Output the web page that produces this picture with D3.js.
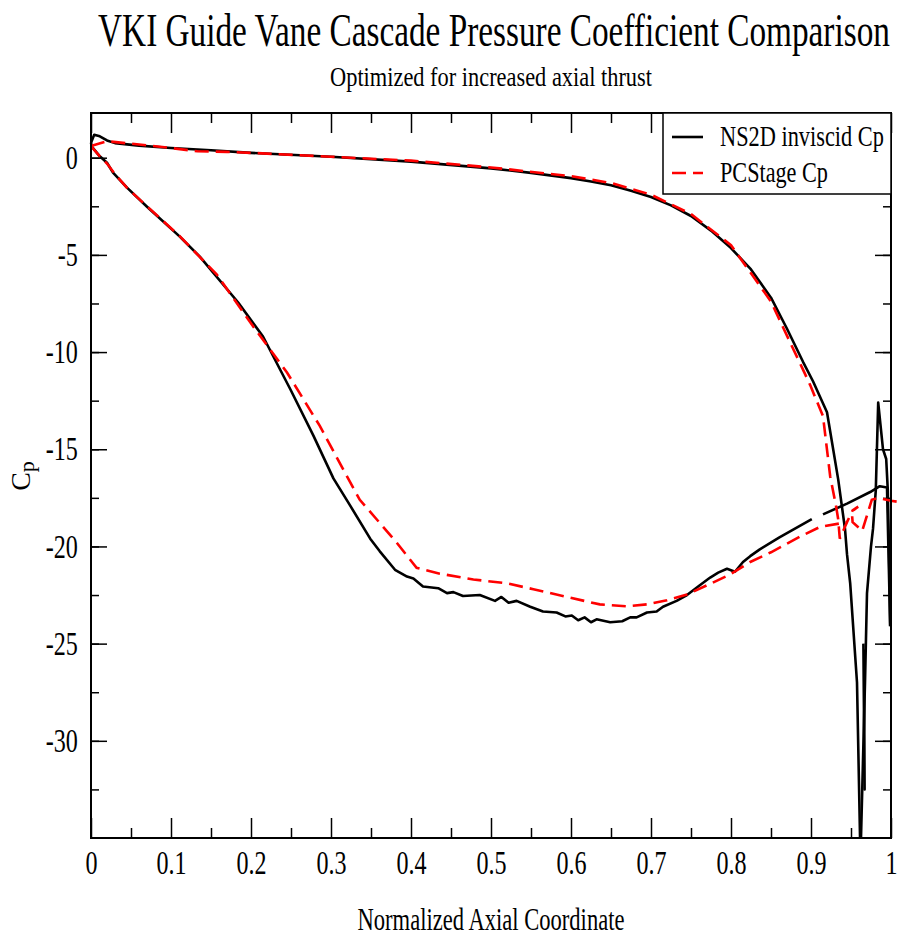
<!DOCTYPE html>
<html>
<head>
<meta charset="utf-8">
<script src="https://cdn.jsdelivr.net/npm/d3@7"></script>
<style>
  body { margin: 0; background: #fff; }
  text { font-family: "Liberation Serif", "Times New Roman", serif; fill: #000; }
</style>
</head>
<body>
<div id="chart"></div>
<script>
// tick labels
const xTicks = [0, 0.1, 0.2, 0.3, 0.4, 0.5, 0.6, 0.7, 0.8, 0.9, 1];
const xMinor = [0.05, 0.15, 0.25, 0.35, 0.45, 0.55, 0.65, 0.75, 0.85, 0.95];
const yTicks = [0, -5, -10, -15, -20, -25, -30];
const yMinor = [0, -2.5, -5, -7.5, -10, -12.5, -15, -17.5, -20, -22.5, -25, -27.5, -30, -32.5];

// NS2D inviscid Cp  [x, cp]
const ns2dPressure = [
  [0, 0.77], [0.004, 1.18], [0.011, 1.1], [0.02, 0.89], [0.03, 0.75], [0.06, 0.62],
  [0.1, 0.5], [0.15, 0.38], [0.2, 0.25], [0.3, 0.05], [0.4, -0.2], [0.5, -0.55],
  [0.55, -0.78], [0.6, -1.05], [0.625, -1.22], [0.65, -1.42], [0.675, -1.7], [0.7, -2.02],
  [0.725, -2.45], [0.75, -3.0], [0.775, -3.75], [0.8, -4.65], [0.825, -5.75], [0.85, -7.2],
  [0.87, -8.8], [0.89, -10.5], [0.9025, -11.5], [0.92, -13.1],
  [0.934, -16.55], [0.9425, -19.1], [0.945, -20.4], [0.949, -21.9], [0.9575, -27.0], [0.9613, -35]
];
const ns2dTrailing = [
  [0.9625, -35], [0.9675, -27.0], [0.97, -22.4], [0.975, -20.0], [0.9775, -19.1],
  [0.981, -17.1], [0.984, -12.6], [0.99, -15.0], [0.994, -15.5], [0.996, -17.1],
  [0.9975, -20.2], [0.999, -24.1]
];
const ns2dStub = [[0.9655, -25.0], [0.967, -32.5], [0.9662, -25.3]];
const ns2dSuctionA = [
  [0, 0.77], [0.001, 0.57], [0.011, 0.07], [0.02, -0.26], [0.0275, -0.77], [0.045, -1.54],
  [0.07, -2.52], [0.111, -4.06], [0.136, -5.09], [0.184, -7.45], [0.215, -9.2], [0.249, -11.9],
  [0.278, -14.3], [0.303, -16.5], [0.324, -17.9], [0.349, -19.6], [0.361, -20.25], [0.38, -21.2],
  [0.395, -21.55], [0.403, -21.65], [0.415, -22.06], [0.434, -22.15], [0.445, -22.4], [0.453, -22.35],
  [0.465, -22.55], [0.486, -22.5], [0.505, -22.8], [0.513, -22.6], [0.522, -22.9], [0.532, -22.8],
  [0.549, -23.1], [0.565, -23.35], [0.582, -23.4], [0.593, -23.6], [0.601, -23.55], [0.609, -23.8],
  [0.617, -23.65], [0.625, -23.9], [0.632, -23.75], [0.649, -23.9], [0.664, -23.85], [0.674, -23.65],
  [0.682, -23.65], [0.695, -23.4], [0.707, -23.35], [0.715, -23.1], [0.732, -22.8], [0.745, -22.5],
  [0.761, -22.0], [0.774, -21.6], [0.784, -21.35], [0.795, -21.15], [0.805, -21.3], [0.815, -20.8],
  [0.824, -20.5], [0.836, -20.15], [0.86, -19.55], [0.901, -18.6]
];
const ns2dSuctionB = [
  [0.915, -18.35], [0.945, -17.8], [0.974, -17.2], [0.986, -16.9], [0.995, -16.97], [0.999, -24.1]
];

// PCStage Cp  [x, cp]
const pcPressure = [
  [0, 0.6], [0.02, 0.85], [0.05, 0.72], [0.1, 0.5], [0.133, 0.33], [0.17, 0.3], [0.2, 0.25],
  [0.3, 0.05], [0.4, -0.15], [0.5, -0.5], [0.6, -0.95], [0.65, -1.3], [0.7, -1.9],
  [0.75, -2.9], [0.8, -4.5], [0.85, -7.4], [0.875, -9.6], [0.89, -10.9], [0.899, -11.7],
  [0.915, -13.3], [0.924, -16.4], [0.931, -17.85], [0.934, -18.6], [0.936, -19.6],
  [0.945, -18.75], [0.952, -18.15], [0.959, -17.95], [0.951, -18.2], [0.952, -18.75],
  [0.964, -19.2], [0.976, -17.6], [0.984, -17.5], [1.0, -17.65], [1.008, -17.7]
];
const pcSuction = [
  [0, 0.6], [0.011, 0.07], [0.02, -0.3], [0.03, -0.85], [0.045, -1.55], [0.07, -2.5],
  [0.11, -4.0], [0.157, -6.0], [0.203, -8.7], [0.245, -11.05], [0.286, -13.8], [0.32, -16.4],
  [0.336, -17.6], [0.357, -18.6], [0.382, -19.8], [0.407, -21.1], [0.436, -21.4], [0.478, -21.7],
  [0.52, -21.9], [0.553, -22.2], [0.595, -22.6], [0.636, -22.98], [0.67, -23.08], [0.695, -22.98],
  [0.72, -22.77], [0.745, -22.47], [0.77, -22.0], [0.799, -21.44], [0.824, -20.8], [0.85, -20.3],
  [0.886, -19.5], [0.911, -19.0], [0.945, -18.75]
];

const width = 900;
const height = 941;
const margin = { top: 113, right: 9, bottom: 103, left: 91 };
const squeeze = 0.73; // glyphs look horizontally narrowed in the original

const svg = d3.select("#chart")
  .append("svg")
  .attr("width", width)
  .attr("height", height);

const xScale = d3.scaleLinear()
  .domain([0, 1])
  .range([margin.left, width - margin.right]);

const yScale = d3.scaleLinear()
  .domain([-35, 2.3])
  .range([height - margin.bottom, margin.top]);

const line = d3.line()
  .x((d) => xScale(d[0]))
  .y((d) => yScale(d[1]));

// text squeezed to a given width with a scale transform
function narrowText(parent, str, x, y, size, targetWidth, anchor) {
  const t = parent.append("text")
    .attr("font-size", size)
    .attr("text-anchor", anchor || "start")
    .text(str);
  const natural = t.node().getComputedTextLength();
  t.attr("transform", "translate(" + x + "," + y + ") scale(" + (targetWidth / natural) + ",1)");
  return t;
}

// titles
narrowText(svg, "VKI Guide Vane Cascade Pressure Coefficient Comparison", 494, 46, 47, 792, "middle");
narrowText(svg, "Optimized for increased axial thrust", 491, 86, 27, 322, "middle");
narrowText(svg, "Normalized Axial Coordinate", 491, 930, 31, 267, "middle");

const yLabel = svg.append("text")
  .attr("transform", "translate(30,476) rotate(-90)")
  .attr("text-anchor", "middle")
  .attr("font-size", 28);
yLabel.append("tspan").text("C");
yLabel.append("tspan").attr("font-size", 22).attr("dy", 4).text("p");

// axes, ticks pointing inward
const bottom = height - margin.bottom;
const right = width - margin.right;

function styleAxis(g) {
  g.select(".domain").remove();
  g.selectAll(".tick line").attr("stroke", "#000").attr("stroke-width", 1.5);
}

svg.append("g")
  .attr("transform", "translate(0," + bottom + ")")
  .call(d3.axisBottom(xScale).tickValues(xTicks).tickSize(-20).tickPadding(13)
    .tickFormat((d) => String(d)))
  .call(styleAxis)
  .call((g) => g.selectAll(".tick text")
    .attr("font-size", 33)
    .attr("font-family", "Liberation Serif")
    .attr("fill", "#000")
    .attr("transform", "scale(" + squeeze + ",1)"));

svg.append("g")
  .attr("transform", "translate(0," + bottom + ")")
  .call(d3.axisBottom(xScale).tickValues(xMinor).tickSize(-10).tickFormat(""))
  .call(styleAxis);

svg.append("g")
  .attr("transform", "translate(0," + margin.top + ")")
  .call(d3.axisTop(xScale).tickValues(xTicks).tickSize(-20).tickFormat(""))
  .call(styleAxis);

svg.append("g")
  .attr("transform", "translate(0," + margin.top + ")")
  .call(d3.axisTop(xScale).tickValues(xMinor).tickSize(-10).tickFormat(""))
  .call(styleAxis);

svg.append("g")
  .attr("transform", "translate(" + margin.left + ",0)")
  .call(d3.axisLeft(yScale).tickValues(yTicks).tickSize(-16).tickPadding(18)
    .tickFormat((d) => String(d)))
  .call(styleAxis)
  .call((g) => g.selectAll(".tick text")
    .attr("font-size", 33)
    .attr("font-family", "Liberation Serif")
    .attr("fill", "#000")
    .attr("transform", "scale(" + squeeze + ",1)"));

svg.append("g")
  .attr("transform", "translate(" + margin.left + ",0)")
  .call(d3.axisLeft(yScale).tickValues(yMinor).tickSize(-8).tickFormat(""))
  .call(styleAxis);

svg.append("g")
  .attr("transform", "translate(" + right + ",0)")
  .call(d3.axisRight(yScale).tickValues(yTicks).tickSize(-16).tickFormat(""))
  .call(styleAxis);

svg.append("g")
  .attr("transform", "translate(" + right + ",0)")
  .call(d3.axisRight(yScale).tickValues(yMinor).tickSize(-8).tickFormat(""))
  .call(styleAxis);

// data lines
const blackParts = [ns2dPressure, ns2dTrailing, ns2dStub, ns2dSuctionA, ns2dSuctionB];
svg.selectAll("path.ns2d")
  .data(blackParts)
  .join("path")
  .attr("class", "ns2d")
  .attr("d", line)
  .attr("fill", "none")
  .attr("stroke", "#000")
  .attr("stroke-width", 2.6)
  .attr("stroke-linejoin", "round");

const redParts = [pcPressure, pcSuction];
svg.selectAll("path.pc")
  .data(redParts)
  .join("path")
  .attr("class", "pc")
  .attr("d", line)
  .attr("fill", "none")
  .attr("stroke", "#ff0000")
  .attr("stroke-width", 2.6)
  .attr("stroke-dasharray", "14,7");

// frame
svg.append("rect")
  .attr("x", margin.left).attr("y", margin.top)
  .attr("width", right - margin.left)
  .attr("height", bottom - margin.top)
  .attr("fill", "none")
  .attr("stroke", "#000")
  .attr("stroke-width", 2);

// legend
const legend = svg.append("g");
legend.append("rect")
  .attr("x", 663).attr("y", 113)
  .attr("width", 228).attr("height", 81)
  .attr("fill", "#fff")
  .attr("stroke", "#000")
  .attr("stroke-width", 1.5);

const legendItems = [
  { label: "NS2D inviscid Cp", color: "#000", dash: null, len: 164 },
  { label: "PCStage Cp", color: "#ff0000", dash: "14,7", len: 108 },
];
legendItems.forEach((item, i) => {
  const y = 137 + i * 36;
  legend.append("line")
    .attr("x1", 672).attr("x2", 703)
    .attr("y1", y).attr("y2", y)
    .attr("stroke", item.color)
    .attr("stroke-width", 2.6)
    .attr("stroke-dasharray", item.dash);
  narrowText(legend, item.label, 720, y + 9, 30, item.len);
});
</script>
</body>
</html>
